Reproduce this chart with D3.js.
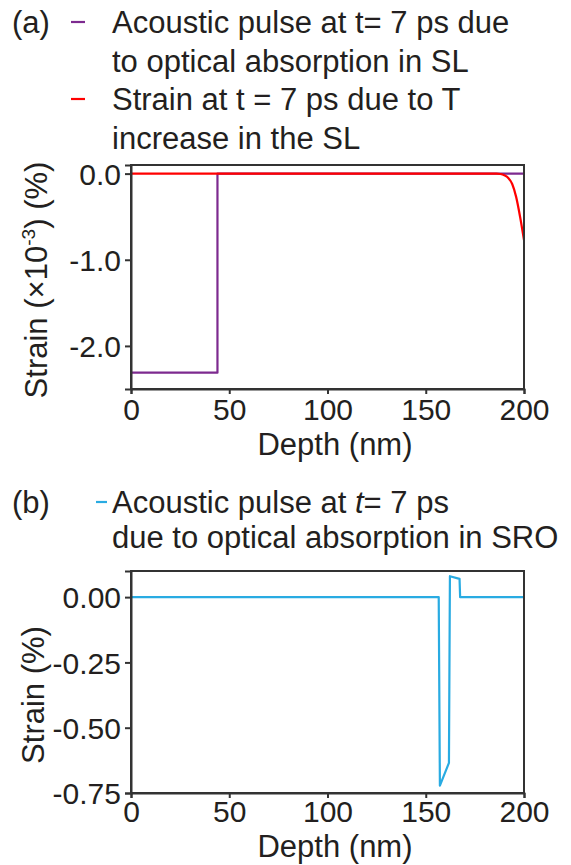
<!DOCTYPE html>
<html>
<head>
<meta charset="utf-8">
<script src="https://cdn.jsdelivr.net/npm/d3@7"></script>
<style>
  html, body { margin: 0; padding: 0; background: #fff; }
  svg { display: block; }
  text { font-family: "Liberation Sans", Arial, sans-serif; fill: #231f20; }
</style>
</head>
<body>
<svg id="chart" width="571" height="865"></svg>
<script>
// Depth profiles (nm) and strain values
const depthTicks = [0, 50, 100, 150, 200];

// (a) strain in units of 1e-3 %
const slPulseDepth = [0, 44, 44, 200];
const slPulseStrain = [-2.31, -2.31, 0, 0];
const slThermalDepth = [0, 186, 188, 190, 192, 194, 196, 198, 200];
const slThermalStrain = [0, 0, -0.005, -0.02, -0.05, -0.12, -0.27, -0.5, -0.77];
const aTicks = [0, -1, -2];

// (b) strain in %
const sroPulseDepth = [0, 156.6, 157.2, 161.8, 162.3, 167.2, 167.5, 200];
const sroPulseStrain = [0, 0, -0.722, -0.635, 0.08, 0.07, 0, 0];
const bTicks = [0, -0.25, -0.5, -0.75];

const svg = d3.select("#chart");
const FS = 31;
const TFS = 30;
const axisColor = "#333";

function panel(cfg) {
  const x = d3.scaleLinear().domain([0, 200]).range([131, 524]);
  const y = d3.scaleLinear().domain(cfg.yDomain).range([cfg.bottom, cfg.top]);
  const g = svg.append("g");

  // series
  cfg.series.forEach(s => {
    const pts = s.x.map((d, i) => [d, s.y[i]]);
    g.append("path")
      .datum(pts)
      .attr("fill", "none")
      .attr("stroke", s.color)
      .attr("stroke-width", 2.2)
      .attr("stroke-linejoin", "round")
      .attr("d", d3.line().x(d => x(d[0])).y(d => y(d[1])).curve(s.curve || d3.curveLinear));
  });

  // frame
  g.append("rect")
    .attr("x", x(0)).attr("y", cfg.top)
    .attr("width", x(200) - x(0)).attr("height", cfg.bottom - cfg.top)
    .attr("fill", "none").attr("stroke", axisColor).attr("stroke-width", 2);

  // axes
  const xa = g.append("g").attr("transform", `translate(0,${cfg.bottom})`)
    .call(d3.axisBottom(x).tickValues(depthTicks).tickSize(5).tickPadding(3).tickFormat(d3.format("d")));
  const ya = g.append("g").attr("transform", `translate(${x(0)},0)`)
    .call(d3.axisLeft(y).tickValues(cfg.yTicks).tickSize(6).tickPadding(4)
      .tickFormat(d => d3.format(cfg.fmt)(d).replace("\u2212", "-")));
  [xa, ya].forEach(a => {
    a.select(".domain").attr("stroke", axisColor).attr("stroke-width", 2);
    a.selectAll(".tick line").attr("stroke", axisColor).attr("stroke-width", 2);
    a.selectAll(".tick text").attr("font-size", TFS).attr("fill", "#231f20")
      .attr("font-family", "Liberation Sans, Arial, sans-serif");
  });
  xa.selectAll(".tick text").attr("dy", null).attr("y", cfg.xTickBase - cfg.bottom);
  ya.selectAll(".tick text").attr("dy", "0.36em");

  // x label
  g.append("text").attr("x", 335).attr("y", cfg.xLabelBase)
    .attr("text-anchor", "middle").attr("font-size", FS).text("Depth (nm)");
  return {x, y, g};
}

// Panel (a)
panel({
  yDomain: [-2.5, 0.1], top: 165, bottom: 389, yTicks: aTicks, fmt: ".1f",
  xTickBase: 420, xLabelBase: 455,
  series: [
    {x: slPulseDepth, y: slPulseStrain, color: "#7d2a8f"},
    {x: slThermalDepth, y: slThermalStrain, color: "#ff0000", curve: d3.curveMonotoneX}
  ]
});

// Panel (b)
panel({
  yDomain: [-0.75, 0.1], top: 571, bottom: 793, yTicks: bTicks, fmt: ".2f",
  xTickBase: 822, xLabelBase: 857,
  series: [
    {x: sroPulseDepth, y: sroPulseStrain, color: "#29abe2"}
  ]
});

// y-axis titles
const ya1 = svg.append("text").attr("font-size", FS)
  .attr("transform", "translate(47,280) rotate(-90)").attr("text-anchor", "middle");
ya1.append("tspan").text("Strain (\u00d710");
ya1.append("tspan").attr("font-size", FS * 0.62).attr("dy", -12).text("-3");
ya1.append("tspan").attr("dy", 12).text(") (%)");

svg.append("text").attr("font-size", FS)
  .attr("transform", "translate(44,695) rotate(-90)").attr("text-anchor", "middle")
  .text("Strain (%)");

// legends
function legendLine(xDash, dashLen, yBase, color, lines, lineH, textX) {
  svg.append("line").attr("x1", xDash).attr("x2", xDash + dashLen)
    .attr("y1", yBase - 11).attr("y2", yBase - 11)
    .attr("stroke", color).attr("stroke-width", 2.2);
  lines.forEach((l, i) => {
    const t = svg.append("text").attr("x", textX).attr("y", yBase + i * lineH).attr("font-size", FS);
    l.forEach(seg => {
      const s = t.append("tspan").text(seg.t);
      if (seg.i) s.attr("font-style", "italic");
    });
  });
}

svg.append("text").attr("x", 12).attr("y", 33).attr("font-size", FS).text("(a)");
legendLine(71, 14, 33, "#7d2a8f",
  [[{t: "Acoustic pulse at t= 7 ps due"}], [{t: "to optical absorption in SL"}]], 38.5, 112);
legendLine(71, 14, 110, "#ff0000",
  [[{t: "Strain at t = 7 ps due to T"}], [{t: "increase in the SL"}]], 39, 112);

svg.append("text").attr("x", 12).attr("y", 513).attr("font-size", FS).text("(b)");
legendLine(96, 11, 513, "#29abe2",
  [[{t: "Acoustic pulse at "}, {t: "t", i: true}, {t: "= 7 ps"}],
   [{t: "due to optical absorption in SRO"}]], 35, 112);
</script>
</body>
</html>
